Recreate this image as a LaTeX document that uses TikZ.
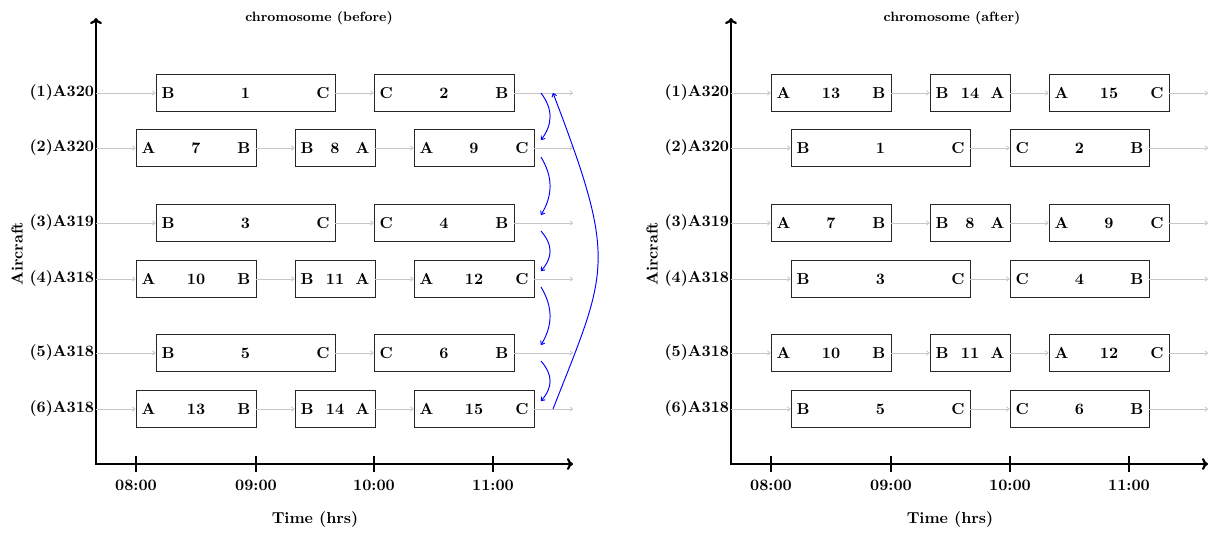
\documentclass[tikz,border=0pt]{standalone}
\usetikzlibrary{arrows.meta}
\tikzset{
  x=0.63pt, y=-0.63pt,
  lbl/.style={font=\bfseries, inner sep=1pt},
  titlelbl/.style={font=\bfseries\fontsize{8.5}{10}\selectfont, inner sep=1pt},
  flbox/.style={draw=black!85, line width=0.6pt, minimum height=37*0.63pt, inner sep=0pt},
  inlbl/.style={font=\bfseries, inner sep=0pt},
  graylink/.style={draw=black!22, line width=0.5pt, -{To[length=2.2pt,width=3.2pt]}},
  axisline/.style={line width=1.4pt, line join=miter, {To[length=3.8pt,width=7.5pt]}-{To[length=3.8pt,width=7.5pt]}},
  tickline/.style={line width=1.4pt},
  bluearrow/.style={draw=blue, line width=0.6pt, -{To[length=2.5pt,width=3.5pt]}}
}
\newcommand{\flightbox}[7]{%
  \node[flbox, minimum width={(#3-#2)*0.63pt}] (#1) at ({(#2+#3)/2},#4) {};
  \node[inlbl, anchor=west] (#1l) at ([xshift=3.6pt]#1.west) {#5};
  \node[inlbl] (#1n) at (#1.center) {#6};
  \node[inlbl, anchor=east] (#1r) at ([xshift=-3.6pt]#1.east) {#7};
}
\begin{document}
\begin{tikzpicture}
\useasboundingbox (0,0) rectangle (1221,533);
% ================= LEFT PANEL =================
\coordinate (LO) at (96,464);
\coordinate (LYtop) at (96,18);
\coordinate (LXend) at (573,464);
\draw[axisline] (LYtop) -- (LO) -- (LXend);
\foreach \x/\t in {136/08:00,256/09:00,374/10:00,493/11:00}{
  \coordinate (Ltk\x) at (\x,456);
  \coordinate (Ltb\x) at (\x,472);
  \draw[tickline] (Ltk\x) -- (Ltb\x);
  \node[lbl] (Ltl\x) at (\x,485) {\t};
}
\node[titlelbl] (Ltitle) at (319,18) {chromosome (before)};
\node[lbl] (Lxlabel) at (315,520) {Time (hrs)};
\node[lbl, rotate=90] (Lylabel) at (17,254) {Aircraft};
\foreach \k/\y/\n in {1/93/(1)A320,2/148/(2)A320,3/223/(3)A319,4/279/(4)A318,5/353/(5)A318,6/409/(6)A318}{
  \coordinate (LA\k) at (96,\y);
  \coordinate (LE\k) at (573,\y);
  \node[lbl, anchor=east] (Lr\k) at (LA\k) {\n};
}
% rows
\flightbox{L1a}{156}{335}{93}{B}{1}{C}
\flightbox{L1b}{374}{514}{93}{C}{2}{B}
\flightbox{L2a}{136}{256}{148}{A}{7}{B}
\flightbox{L2b}{295}{375}{148}{B}{8}{A}
\flightbox{L2c}{414}{534}{148}{A}{9}{C}
\flightbox{L3a}{156}{335}{223}{B}{3}{C}
\flightbox{L3b}{374}{514}{223}{C}{4}{B}
\flightbox{L4a}{136}{256}{279}{A}{10}{B}
\flightbox{L4b}{295}{375}{279}{B}{11}{A}
\flightbox{L4c}{414}{534}{279}{A}{12}{C}
\flightbox{L5a}{156}{335}{353}{B}{5}{C}
\flightbox{L5b}{374}{514}{353}{C}{6}{B}
\flightbox{L6a}{136}{256}{409}{A}{13}{B}
\flightbox{L6b}{295}{375}{409}{B}{14}{A}
\flightbox{L6c}{414}{534}{409}{A}{15}{C}
\draw[graylink] (LA1) -- (L1a); \draw[graylink] (L1a) -- (L1b); \draw[graylink] (L1b) -- (LE1);
\draw[graylink] (LA2) -- (L2a); \draw[graylink] (L2a) -- (L2b); \draw[graylink] (L2b) -- (L2c); \draw[graylink] (L2c) -- (LE2);
\draw[graylink] (LA3) -- (L3a); \draw[graylink] (L3a) -- (L3b); \draw[graylink] (L3b) -- (LE3);
\draw[graylink] (LA4) -- (L4a); \draw[graylink] (L4a) -- (L4b); \draw[graylink] (L4b) -- (L4c); \draw[graylink] (L4c) -- (LE4);
\draw[graylink] (LA5) -- (L5a); \draw[graylink] (L5a) -- (L5b); \draw[graylink] (L5b) -- (LE5);
\draw[graylink] (LA6) -- (L6a); \draw[graylink] (L6a) -- (L6b); \draw[graylink] (L6b) -- (L6c); \draw[graylink] (L6c) -- (LE6);
% blue swap arrows
\coordinate (Bs1) at (541,93);  \coordinate (Be1) at (541,140);
\coordinate (Bs2) at (541,157); \coordinate (Be2) at (541,215);
\coordinate (Bs3) at (541,231); \coordinate (Be3) at (541,271);
\coordinate (Bs4) at (541,287); \coordinate (Be4) at (541,345);
\coordinate (Bs5) at (541,361); \coordinate (Be5) at (541,401);
\draw[bluearrow] (Bs1) .. controls +(12,16) and +(12,-16) .. (Be1);
\draw[bluearrow] (Bs2) .. controls +(12,20) and +(12,-20) .. (Be2);
\draw[bluearrow] (Bs3) .. controls +(12,14) and +(12,-14) .. (Be3);
\draw[bluearrow] (Bs4) .. controls +(12,20) and +(12,-20) .. (Be4);
\draw[bluearrow] (Bs5) .. controls +(12,14) and +(12,-14) .. (Be5);
\coordinate (Cs) at (553,409); \coordinate (Ce) at (553,93);
\draw[bluearrow] (Cs) .. controls +(55,-140) and +(65,170) .. (Ce);
% ================= RIGHT PANEL =================
\coordinate (RO) at (731,464);
\coordinate (RYtop) at (731,18);
\coordinate (RXend) at (1208,464);
\draw[axisline] (RYtop) -- (RO) -- (RXend);
\foreach \x/\t in {771/08:00,891/09:00,1010/10:00,1129/11:00}{
  \coordinate (Rtk\x) at (\x,456);
  \coordinate (Rtb\x) at (\x,472);
  \draw[tickline] (Rtk\x) -- (Rtb\x);
  \node[lbl] (Rtl\x) at (\x,485) {\t};
}
\node[titlelbl] (Rtitle) at (952,18) {chromosome (after)};
\node[lbl] (Rxlabel) at (950,520) {Time (hrs)};
\node[lbl, rotate=90] (Rylabel) at (652,254) {Aircraft};
\foreach \k/\y/\n in {1/93/(1)A320,2/148/(2)A320,3/223/(3)A319,4/279/(4)A318,5/353/(5)A318,6/409/(6)A318}{
  \coordinate (RA\k) at (731,\y);
  \coordinate (RE\k) at (1208,\y);
  \node[lbl, anchor=east] (Rr\k) at (RA\k) {\n};
}
\flightbox{R1a}{771}{891}{93}{A}{13}{B}
\flightbox{R1b}{930}{1010}{93}{B}{14}{A}
\flightbox{R1c}{1049}{1169}{93}{A}{15}{C}
\flightbox{R2a}{791}{970}{148}{B}{1}{C}
\flightbox{R2b}{1010}{1149}{148}{C}{2}{B}
\flightbox{R3a}{771}{891}{223}{A}{7}{B}
\flightbox{R3b}{930}{1010}{223}{B}{8}{A}
\flightbox{R3c}{1049}{1169}{223}{A}{9}{C}
\flightbox{R4a}{791}{970}{279}{B}{3}{C}
\flightbox{R4b}{1010}{1149}{279}{C}{4}{B}
\flightbox{R5a}{771}{891}{353}{A}{10}{B}
\flightbox{R5b}{930}{1010}{353}{B}{11}{A}
\flightbox{R5c}{1049}{1169}{353}{A}{12}{C}
\flightbox{R6a}{791}{970}{409}{B}{5}{C}
\flightbox{R6b}{1010}{1149}{409}{C}{6}{B}
\draw[graylink] (RA1) -- (R1a); \draw[graylink] (R1a) -- (R1b); \draw[graylink] (R1b) -- (R1c); \draw[graylink] (R1c) -- (RE1);
\draw[graylink] (RA2) -- (R2a); \draw[graylink] (R2a) -- (R2b); \draw[graylink] (R2b) -- (RE2);
\draw[graylink] (RA3) -- (R3a); \draw[graylink] (R3a) -- (R3b); \draw[graylink] (R3b) -- (R3c); \draw[graylink] (R3c) -- (RE3);
\draw[graylink] (RA4) -- (R4a); \draw[graylink] (R4a) -- (R4b); \draw[graylink] (R4b) -- (RE4);
\draw[graylink] (RA5) -- (R5a); \draw[graylink] (R5a) -- (R5b); \draw[graylink] (R5b) -- (R5c); \draw[graylink] (R5c) -- (RE5);
\draw[graylink] (RA6) -- (R6a); \draw[graylink] (R6a) -- (R6b); \draw[graylink] (R6b) -- (RE6);
\end{tikzpicture}
\end{document}
